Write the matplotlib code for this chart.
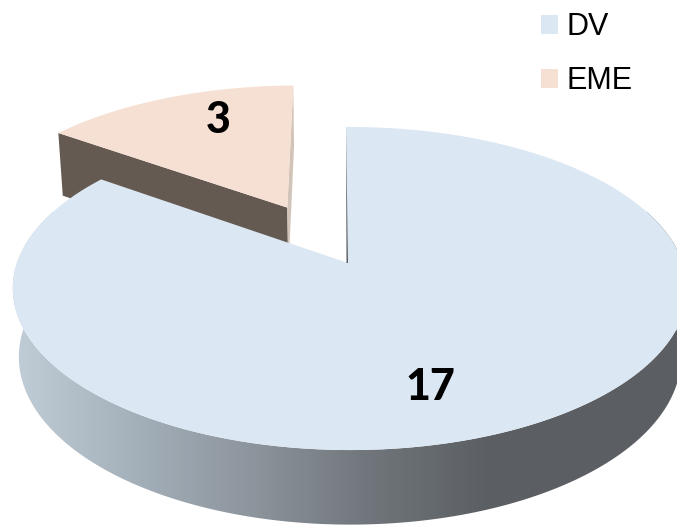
import matplotlib
matplotlib.use('Agg')
import matplotlib.pyplot as plt
import numpy as np
from matplotlib.colors import LinearSegmentedColormap
from matplotlib.patches import Patch, Polygon

categories = ['DV', 'EME']
counts = [17, 3]

WIDTH, HEIGHT = 677, 525
CX, CY = 348, 263
SCALE_X, SCALE_Y = 333, 157.5
PERSP_Y, PERSP_X = 0.158, -0.006
START = 90.4
EXPLODE = 0.42

BLUE, PEACH, BROWN = '#dbe7f3', '#f6e0d3', '#655a52'
side_shade = LinearSegmentedColormap.from_list(
    'side', ['#bfcbd5', '#a3afb9', '#8c949c', '#6f757a', '#5b5f63'])


def project(x, y, bottom=False):
    # circle plane to screen pixels, the far side comes out smaller
    w = 1 + PERSP_Y*y + PERSP_X*x
    if bottom:
        w = w + 0.018
        return CX + SCALE_X*x/w, CY + 68 - 166.5*y/w
    return CX + SCALE_X*x/w, CY - SCALE_Y*y/w


def arc(a0, a1, shift=(0, 0), bottom=False):
    t = np.radians(np.linspace(a0, a1, 200))
    return project(np.cos(t) + shift[0], np.sin(t) + shift[1], bottom)


def poly(*parts):
    xs = np.concatenate([np.atleast_1d(p[0]) for p in parts])
    ys = np.concatenate([np.atleast_1d(p[1]) for p in parts])
    return np.column_stack([xs, ys])


fig = plt.figure(figsize=(WIDTH/100, HEIGHT/100), dpi=100)
ax = fig.add_axes([0, 0, 1, 1])

sweep = 360*counts[0]/sum(counts)
split = START - sweep + 360
mid = np.radians((START + split)/2)
off = (EXPLODE*np.cos(mid), EXPLODE*np.sin(mid))

# exploded slice: cut faces first, then the top
c_split = (np.cos(np.radians(split)), np.sin(np.radians(split)))
c_start = (np.cos(np.radians(START)), np.sin(np.radians(START)))
corner = (c_split[0] + off[0], c_split[1] + off[1])
corner2 = (c_start[0] + off[0], c_start[1] + off[1])
ax.add_patch(Polygon(poly(project(*corner), project(*off),
                          project(*off, bottom=True),
                          project(*corner, bottom=True)),
                     fc=BROWN, ec='none', zorder=1))
ax.add_patch(Polygon(poly(project(*corner2), project(*off),
                          project(*off, bottom=True),
                          project(*corner2, bottom=True)),
                     fc='#d3c4b9', ec='none', zorder=1))
ax.add_patch(Polygon(poly(project(*off), arc(split, START, off)),
                     fc=PEACH, ec='none', zorder=2))

# main pie side with horizontal shading
shade = np.clip((np.arange(WIDTH) - 19)/(490 - 19), 0, 1)[None, :]
side = Polygon(poly(arc(160, 380), arc(380, 160, bottom=True)),
               fc='none', ec='none', zorder=3)
ax.add_patch(side)
im = ax.imshow(shade, extent=(0, WIDTH, HEIGHT, 0), aspect='auto',
               cmap=side_shade, zorder=3)
im.set_clip_path(side)

ax.add_patch(Polygon(poly(project(0, 0), arc(START, START - sweep)),
                     fc=BLUE, ec='none', zorder=4))

# dark sliver where the inner cut face shows
top = project(*c_start)
apex = project(0, 0)
ax.add_patch(Polygon([top, apex, (apex[0] - 1.5, apex[1])],
                     fc='#565c62', ec='none', zorder=5))

ax.text(218, 120, str(counts[1]), ha='center', va='center', fontsize=31,
        fontweight=900, family='Lato', color='black', zorder=6)
ax.text(430, 387, str(counts[0]), ha='center', va='center', fontsize=31,
        fontweight=900, family='Lato', color='black', zorder=6)

handles = [Patch(fc=BLUE, ec='none', label=categories[0]),
           Patch(fc=PEACH, ec='none', label=categories[1])]
ax.legend(handles=handles, loc='upper left', bbox_to_anchor=(541/WIDTH, 1 - 12/HEIGHT),
          frameon=False, borderpad=0, borderaxespad=0, handlelength=0.57,
          handleheight=0.57, handletextpad=0.27, labelspacing=0.8,
          prop={'family': 'Liberation Sans', 'size': 22})

ax.set_xlim(0, WIDTH)
ax.set_ylim(HEIGHT, 0)
ax.axis('off')
fig.savefig('out.png', dpi=100)
